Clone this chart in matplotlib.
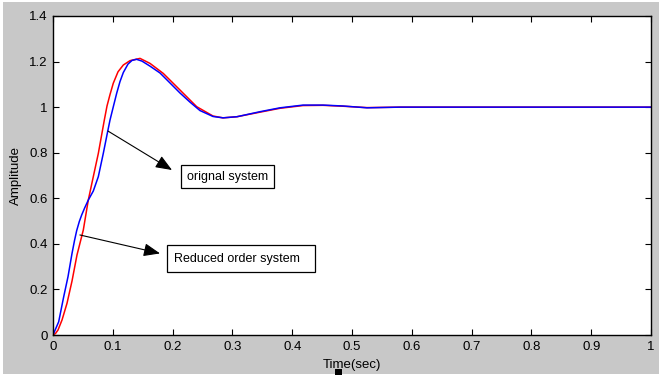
import matplotlib.pyplot as plt
from matplotlib.patches import Rectangle

plt.rcParams['font.family'] = ['Liberation Sans', 'DejaVu Sans']

# step response values
t_orig = [0, 0.0095, 0.0179, 0.0251, 0.0318, 0.036, 0.0396, 0.044, 0.048, 0.053, 0.059,
          0.0674, 0.0758, 0.0841, 0.0908, 0.0953, 0.1003, 0.1065, 0.112, 0.1176, 0.1254,
          0.1321, 0.1396, 0.1488, 0.1622, 0.1789, 0.1957, 0.2124, 0.2291, 0.2458, 0.2676,
          0.2843, 0.3077, 0.3462, 0.3796, 0.4181, 0.4515, 0.485, 0.5251, 0.5803, 0.7,
          0.85, 1.0]
y_orig = [0, 0.058, 0.168, 0.256, 0.358, 0.415, 0.458, 0.498, 0.527, 0.558, 0.592,
          0.632, 0.695, 0.797, 0.885, 0.943, 0.996, 1.061, 1.112, 1.152, 1.189,
          1.205, 1.210, 1.202, 1.180, 1.150, 1.106, 1.062, 1.022, 0.985, 0.959,
          0.953, 0.958, 0.980, 0.997, 1.009, 1.009, 1.005, 0.997, 1.000, 1.000,
          1.000, 1.000]

t_red = [0, 0.0042, 0.0084, 0.0151, 0.0234, 0.0318, 0.0401, 0.0507, 0.059, 0.0674,
         0.0758, 0.0858, 0.0903, 0.0953, 0.1008, 0.1087, 0.1176, 0.1288, 0.1455, 0.1622,
         0.1844, 0.2124, 0.2403, 0.2676, 0.2843, 0.3077, 0.3462, 0.3796, 0.4181, 0.4515,
         0.485, 0.5251, 0.5803, 0.7, 0.85, 1.0]
y_red = [0, 0.0066, 0.022, 0.066, 0.139, 0.237, 0.351, 0.461, 0.592, 0.695,
         0.797, 0.943, 1.005, 1.055, 1.105, 1.155, 1.185, 1.204, 1.214, 1.192,
         1.148, 1.075, 1.002, 0.961, 0.953, 0.958, 0.978, 0.995, 1.007, 1.008,
         1.004, 0.998, 1.000, 1.000, 1.000, 1.000]

x_ticks = [0, 0.1, 0.2, 0.3, 0.4, 0.5, 0.6, 0.7, 0.8, 0.9, 1]
x_tick_labels = ['0', '0.1', '0.2', '0.3', '0.4', '0.5', '0.6', '0.7', '0.8', '0.9', '1']
y_ticks = [0, 0.2, 0.4, 0.6, 0.8, 1.0, 1.2, 1.4]
y_tick_labels = ['0', '0.2', '0.4', '0.6', '0.8', '1', '1.2', '1.4']

fig = plt.figure(figsize=(6.59, 3.79), dpi=100, facecolor='white')
# matlab grey figure area
fig.patches.append(Rectangle((0.005, 0.013), 0.995, 0.981, transform=fig.transFigure,
                             facecolor='#c8c8c8', edgecolor='none', zorder=-10))
fig.patches.append(Rectangle((335 / 659, 4 / 379), 6.5 / 659, 6 / 379, transform=fig.transFigure,
                             facecolor='black', edgecolor='none', zorder=5))

ax = fig.add_axes([53 / 659, 44 / 379, 598 / 659, 319 / 379])
ax.set_facecolor('white')

ax.plot(t_red, y_red, color='red', lw=1.1)
ax.plot(t_orig, y_orig, color='blue', lw=1.1)

ax.set_xlim(0, 1)
ax.set_ylim(0, 1.4)
ax.set_xticks(x_ticks)
ax.set_xticklabels(x_tick_labels)
ax.set_yticks(y_ticks)
ax.set_yticklabels(y_tick_labels)
ax.tick_params(direction='in', length=4, width=0.8, top=True, right=True,
               labelsize=9.5, colors='black', pad=4)
for s in ax.spines.values():
    s.set_linewidth(1.0)

ax.set_xlabel('Time(sec)', fontsize=9.5)
ax.set_ylabel('Amplitude', fontsize=9.5)
ax.xaxis.set_label_coords(0.5, -0.075)
ax.yaxis.set_label_coords(-0.052, 0.5)

arrow = dict(arrowstyle='-|>,head_length=1.0,head_width=0.4', color='black', lw=0.8,
             shrinkA=0, shrinkB=0)
ax.annotate('', xy=(0.199, 0.724), xytext=(0.092, 0.895), arrowprops=arrow)
ax.annotate('', xy=(0.179, 0.358), xytext=(0.045, 0.439), arrowprops=arrow)

box = dict(boxstyle='square,pad=0.45', facecolor='white', edgecolor='black', lw=0.9)
ax.text(0.292, 0.694, 'orignal system', fontsize=9, ha='center', va='center', bbox=box)
ax.text(0.314, 0.334, 'Reduced order system  ', fontsize=9, ha='center', va='center',
        bbox=dict(boxstyle='square,pad=0.6', facecolor='white', edgecolor='black', lw=0.9))

fig.savefig('out.png', dpi=100, facecolor=fig.get_facecolor())
